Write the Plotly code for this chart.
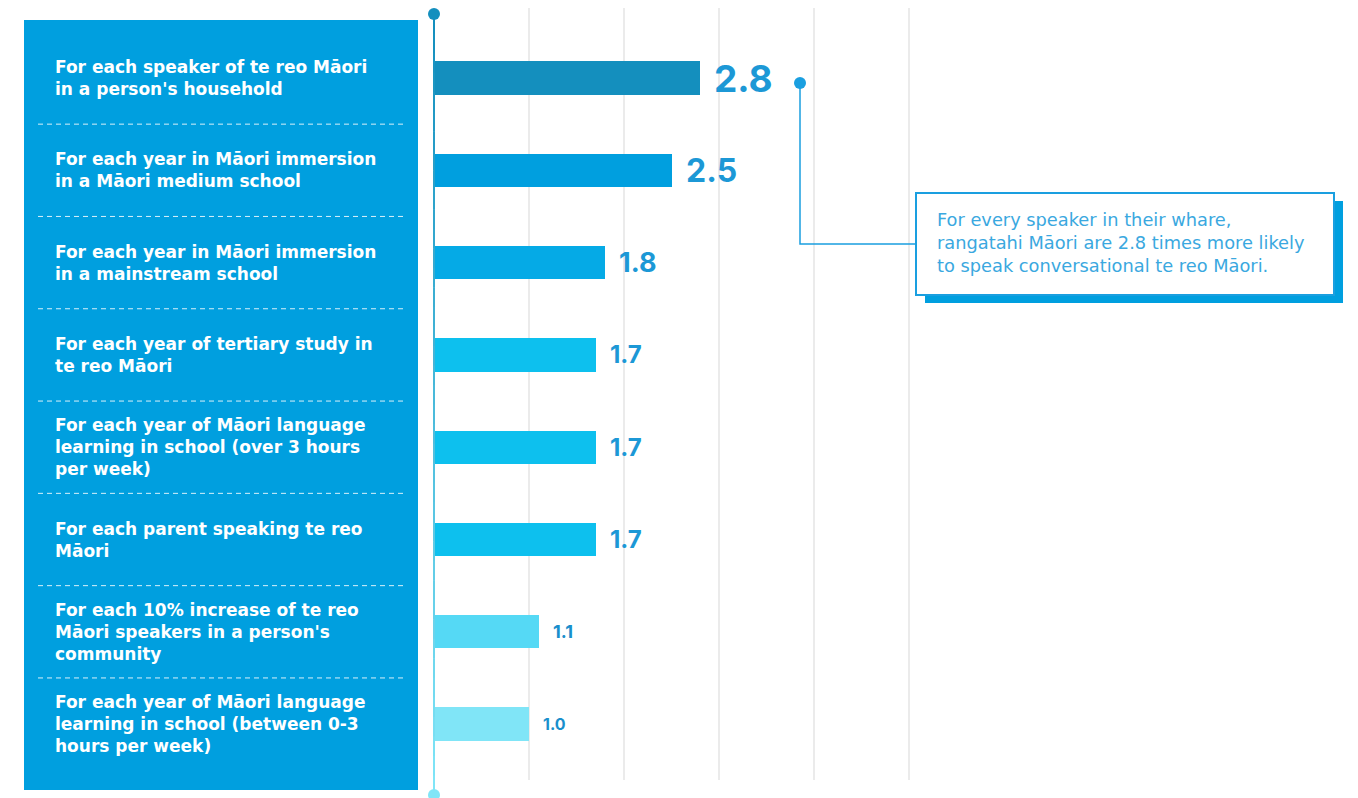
import plotly.graph_objects as go

# ---------------- data ----------------
categories = [
    "For each speaker of te reo Māori<br>in a person's household",
    "For each year in Māori immersion<br>in a Māori medium school",
    "For each year in Māori immersion<br>in a mainstream school",
    "For each year of tertiary study in<br>te reo Māori",
    "For each year of Māori language<br>learning in school (over 3 hours<br>per week)",
    "For each parent speaking te reo<br>Māori",
    "For each 10% increase of te reo<br>Māori speakers in a person's<br>community",
    "For each year of Māori language<br>learning in school (between 0-3<br>hours per week)",
]
values = [2.8, 2.5, 1.8, 1.7, 1.7, 1.7, 1.1, 1.0]
bar_colors = ["#148fbe", "#009fdf", "#05aae6", "#0dc0ee", "#0dc0ee", "#0dc0ee", "#55d9f5", "#80e5f7"]
value_label_sizes = [37, 32, 27, 24, 24, 24, 18, 16]
value_label_colors = ["#1c98d6", "#1c98d6", "#1c98d6", "#1c98d6", "#1c98d6", "#1c98d6", "#1a8fcc", "#1a8fcc"]
grid_values = [1, 2, 3, 4, 5]
callout_text = ("For every speaker in their whare,<br>"
                "rangatahi Māori are 2.8 times more likely<br>"
                "to speak conversational te reo Māori.")

# ---------------- geometry helpers (pixel -> data) ----------------
W, H = 1358, 798
X0, PXU = 434, 95.0      # x pixel of value 0, pixels per unit
Y0, ROW = 78, 92.3       # y pixel of first row centre, pixels per row


def xd(px):
    return (px - X0) / PXU


def yd(py):
    return (py - Y0) / ROW


n = len(values)
rows = list(range(n))

fig = go.Figure()
fig.add_trace(go.Bar(
    y=rows, x=values, orientation="h",
    marker=dict(color=bar_colors, line=dict(width=0)),
    width=0.36, hoverinfo="skip", showlegend=False,
))

shapes = []
# left panel
shapes.append(dict(type="rect", xref="x", yref="y", x0=xd(24), x1=xd(418), y0=yd(20), y1=yd(790),
                   fillcolor="#009fdf", line=dict(width=0), layer="below"))
# dashed separators
for i in range(n - 1):
    shapes.append(dict(type="line", xref="x", yref="y", x0=xd(38), x1=xd(406), y0=i + 0.5, y1=i + 0.5,
                       line=dict(color="rgba(255,255,255,0.85)", width=1, dash="5px,4px"), layer="below"))
# gridlines
for g in grid_values:
    shapes.append(dict(type="line", xref="x", yref="y", x0=g, x1=g, y0=yd(8), y1=yd(780),
                       line=dict(color="#e5e5e5", width=1.5), layer="below"))
# gradient axis line
top_c, bot_c = (20, 143, 190), (128, 229, 247)
ytop, ybot = 14, 795
nseg = 40
for k in range(nseg):
    t = k / (nseg - 1)
    c = tuple(round(top_c[j] + (bot_c[j] - top_c[j]) * t) for j in range(3))
    a = ytop + (ybot - ytop) * k / nseg
    b = ytop + (ybot - ytop) * (k + 1) / nseg
    shapes.append(dict(type="line", xref="x", yref="y", x0=0, x1=0, y0=yd(a), y1=yd(b + 0.5),
                       line=dict(color="rgb(%d,%d,%d)" % c, width=2), layer="above"))
# end dots
r = 6
shapes.append(dict(type="circle", xref="x", yref="y", x0=xd(X0 - r), x1=xd(X0 + r), y0=yd(14 - r), y1=yd(14 + r),
                   fillcolor="#148fbe", line=dict(width=0)))
shapes.append(dict(type="circle", xref="x", yref="y", x0=xd(X0 - r), x1=xd(X0 + r), y0=yd(795 - r), y1=yd(795 + r),
                   fillcolor="#80e5f7", line=dict(width=0)))
# callout connector
shapes.append(dict(type="path", xref="x", yref="y",
                   path="M %f,%f L %f,%f L %f,%f" % (xd(800), yd(83), xd(800), yd(244), xd(916), yd(244)),
                   line=dict(color="#1a9fe0", width=1.5)))
shapes.append(dict(type="circle", xref="x", yref="y", x0=xd(800 - r), x1=xd(800 + r), y0=yd(83 - r), y1=yd(83 + r),
                   fillcolor="#1a9fe0", line=dict(width=0)))
# callout box with shadow
shapes.append(dict(type="rect", xref="x", yref="y", x0=xd(925), x1=xd(1343), y0=yd(201), y1=yd(303),
                   fillcolor="#009fdf", line=dict(width=0)))
shapes.append(dict(type="rect", xref="x", yref="y", x0=xd(916), x1=xd(1334), y0=yd(193), y1=yd(295),
                   fillcolor="white", line=dict(color="#1a9fe0", width=2)))

annotations = []
for i, lab in enumerate(categories):
    annotations.append(dict(x=xd(53), y=i, xref="x", yref="y", text=lab, showarrow=False,
                            xanchor="left", yanchor="middle", align="left",
                            font=dict(family="DejaVu Sans", size=17, color="white", weight="bold")))
for i, v in enumerate(values):
    annotations.append(dict(x=v, y=i, xref="x", yref="y", text="%.1f" % v, showarrow=False,
                            xanchor="left", yanchor="middle", xshift=12,
                            font=dict(family="Inter", size=value_label_sizes[i],
                                      color=value_label_colors[i], weight="bold")))
annotations.append(dict(x=xd(935), y=yd(242), xref="x", yref="y", text=callout_text, showarrow=False,
                        xanchor="left", yanchor="middle", align="left",
                        font=dict(family="DejaVu Sans", size=17.8, color="#3aa8e0")))

fig.update_layout(
    width=W, height=H,
    margin=dict(l=0, r=0, t=0, b=0),
    paper_bgcolor="white", plot_bgcolor="white",
    xaxis=dict(range=[xd(0), xd(W)], visible=False, fixedrange=True),
    yaxis=dict(range=[yd(H), yd(0)], visible=False, fixedrange=True),
    shapes=shapes, annotations=annotations,
    showlegend=False, bargap=0,
)

fig.write_html("out.html", config={"displayModeBar": False})
